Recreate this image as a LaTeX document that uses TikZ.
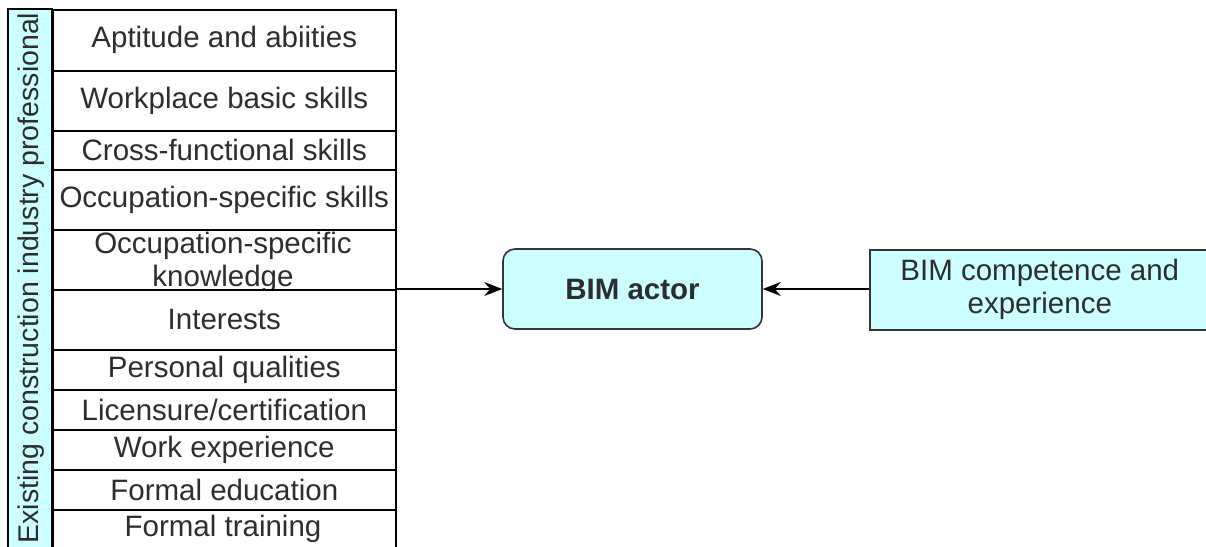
\documentclass[tikz,border=0pt]{standalone}
\usepackage{fontspec}
\setmainfont{Liberation Sans}
\usetikzlibrary{arrows.meta}
\definecolor{lcyan}{RGB}{204,255,255}
\definecolor{txt}{RGB}{45,45,45}
\tikzset{
  row/.style={draw=black, line width=1.6pt, fill=white, minimum width=343pt, anchor=north west, inner sep=0pt, text=txt, font=\fontsize{29.5}{33}\selectfont, align=center},
  rowtext/.style={text=txt, font=\fontsize{29.5}{33}\selectfont, align=center},
  strip/.style={draw=black, line width=1.6pt, fill=lcyan},
  actor/.style={draw=black!80, line width=1.6pt, fill=lcyan, rounded corners=12pt, minimum width=259pt, minimum height=80pt, text=txt, font=\fontsize{29.5}{33}\selectfont\bfseries},
  comp/.style={draw=black!80, line width=1.6pt, fill=lcyan, anchor=north west, minimum width=360pt, minimum height=80pt, text=txt, font=\fontsize{29.5}{33}\selectfont, align=center, inner sep=0pt},
  conn/.style={line width=1.6pt, -{Stealth[length=18pt,width=14pt,inset=6pt]}}
}
\begin{document}
\begin{tikzpicture}[x=1pt,y=-1pt]
\clip (0,0) rectangle (1206,546);
\fill[white] (0,0) rectangle (1206,546);
% left strip
\draw[strip] (8,9) rectangle (52,600);
\node[rotate=90, text=txt, font=\fontsize{28.5}{32}\selectfont] (lab) at (31,278) {Existing construction industry professional};
% rows
\node[row, minimum height=61pt] (r1) at (52,9) {Aptitude and abiities};
\node[row, minimum height=60pt] (r2) at (52,70) {Workplace basic skills};
\node[row, minimum height=39pt] (r3) at (52,130) {Cross-functional skills};
\node[row, minimum height=60pt] (r4) at (52,169) {Occupation-specific skills};
\node[row, minimum height=60pt] (r5) at (52,229) {};
\node[rowtext] (r5t) at (223,262) {Occupation-specific\\knowledge};
\node[row, minimum height=60pt] (r6) at (52,289) {Interests};
\node[row, minimum height=40pt] (r7) at (52,349) {Personal qualities};
\node[row, minimum height=40pt] (r8) at (52,389) {Licensure/certification};
\node[row, minimum height=40pt] (r9) at (52,429) {Work experience};
\node[row, minimum height=40pt] (r10) at (52,469) {Formal education};
\node[row, minimum height=80pt] (r11) at (52,509) {};
\node[rowtext] (r11t) at (223,529) {Formal training};
\coordinate (src) at (395,289);
% right side
\node[actor] (actor) at (632.5,289) {BIM actor};
\node[comp] (comp) at (869,249) {\hspace*{-20pt}BIM competence and\\\hspace*{-20pt}experience};
\draw[conn] (src) -- (actor.west);
\draw[conn] (comp.west |- actor) -- (actor.east);
\end{tikzpicture}
\end{document}
